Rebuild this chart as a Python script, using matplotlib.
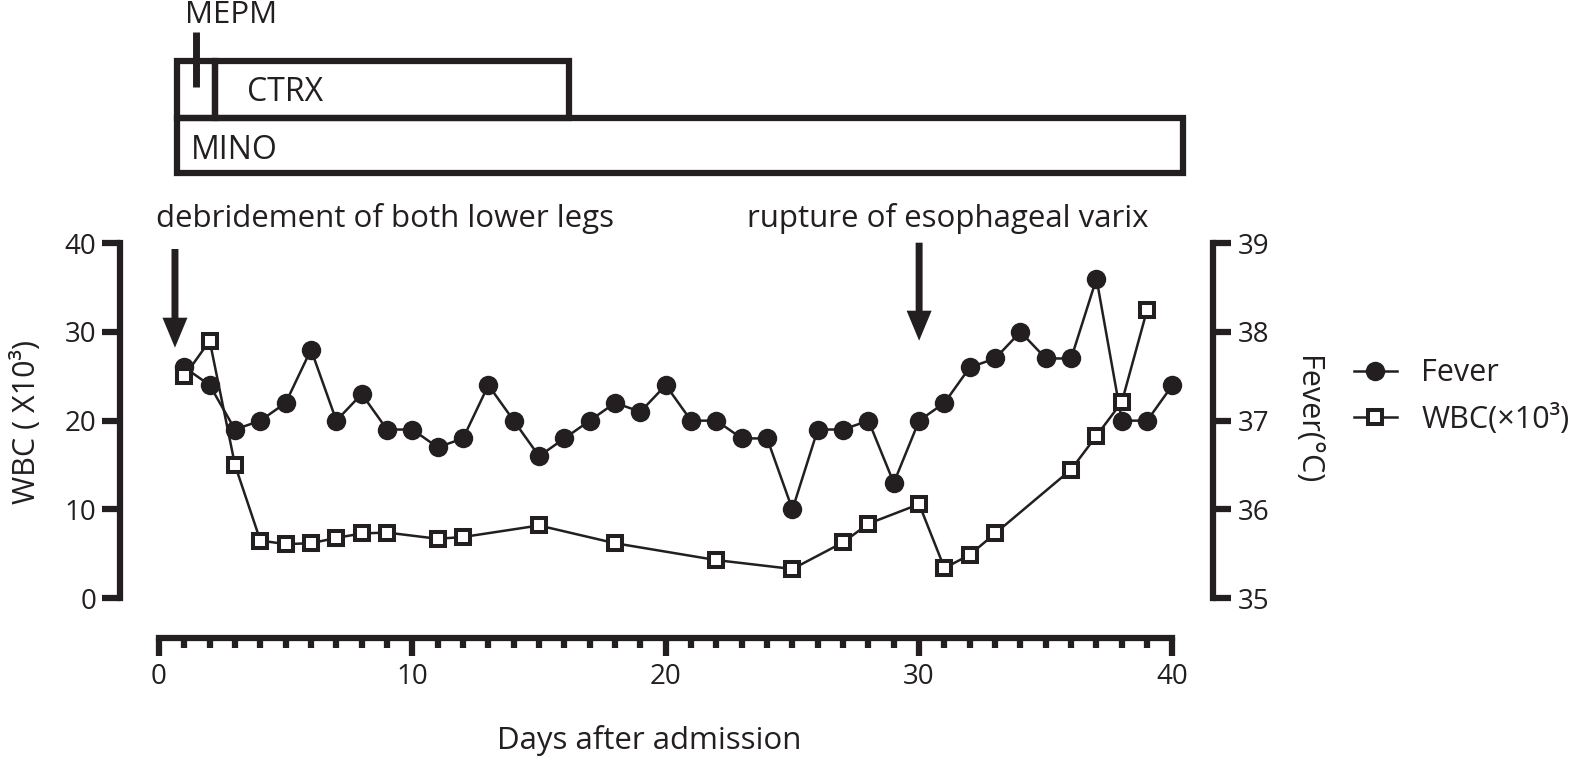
import matplotlib
matplotlib.use('Agg')
import matplotlib.pyplot as plt
from matplotlib.patches import Rectangle, ArrowStyle
from matplotlib.lines import Line2D
from matplotlib.transforms import blended_transform_factory
import numpy as np

plt.rcParams['font.family'] = ['Open Sans', 'DejaVu Sans']

# ---------------- data ----------------
fever_days = list(range(1, 41))
fever_vals = [37.6, 37.4, 36.9, 37.0, 37.2, 37.8, 37.0, 37.3, 36.9, 36.9,
              36.7, 36.8, 37.4, 37.0, 36.6, 36.8, 37.0, 37.2, 37.1, 37.4,
              37.0, 37.0, 36.8, 36.8, 36.0, 36.9, 36.9, 37.0, 36.3, 37.0,
              37.2, 37.6, 37.7, 38.0, 37.7, 37.7, 38.6, 37.0, 37.0, 37.4]

wbc_days = [1, 2, 3, 4, 5, 6, 7, 8, 9, 11, 12, 15, 18, 22, 25, 27, 28, 30,
            31, 32, 33, 36, 37, 38, 39]
wbc_vals = [25.0, 29.0, 15.0, 6.5, 6.1, 6.2, 6.8, 7.3, 7.4, 6.7, 6.9, 8.2,
            6.2, 4.3, 3.3, 6.3, 8.4, 10.6, 3.4, 4.9, 7.3, 14.5, 18.3, 22.1, 32.5]

treat_names = ['MEPM', 'CTRX', 'MINO']
treat_start = [0.7, 2.2, 0.7]
treat_end = [2.2, 16.2, 40.4]
treat_row = [0, 0, 1]

event_days = [0.63, 30.0]
event_labels = ['debridement of both lower legs', 'rupture of esophageal varix']

x_ticks = [0, 10, 20, 30, 40]
wbc_ticks = [0, 10, 20, 30, 40]
fever_ticks = [35, 36, 37, 38, 39]

# ---------------- layout helpers ----------------
W, H = 1594, 759
C = '#231f20'


def fx(px):
    return px / W


def fy(py):
    return 1 - py / H


fig = plt.figure(figsize=(W / 100, H / 100), dpi=100)

left_px, right_px, top_px, bot_px = 119.7, 1213.0, 243.0, 598.3
x0_px, x40_px = 159.0, 1172.5
s = (x40_px - x0_px) / 40.0
xmin = (left_px - x0_px) / s
xmax = 40 + (right_px - x40_px) / s
yscale = (bot_px - top_px) / 40.0

ax = fig.add_axes([fx(left_px), fy(bot_px), (right_px - left_px) / W,
                   (bot_px - top_px) / H])
ax2 = ax.twinx()
ax.set_zorder(ax2.get_zorder() + 1)
ax.patch.set_visible(False)

ax.set_xlim(xmin, xmax)
ax.set_ylim(0, 40)
ax2.set_ylim(35, 39)

SW = 4.5
# fever on right axis
ax2.plot(fever_days, fever_vals, color=C, lw=1.8, marker='o', ms=14,
         mfc=C, mec=C, mew=0, clip_on=False)
# WBC on left axis
ax.plot(wbc_days, wbc_vals, color=C, lw=1.8, marker='s', ms=10.5,
        mfc='white', mec=C, mew=2.9, clip_on=False)

for a in (ax, ax2):
    a.spines['top'].set_visible(False)
    for sp in a.spines.values():
        sp.set_linewidth(SW)
        sp.set_color(C)
        sp.set_capstyle('projecting')

ax.spines['right'].set_visible(False)
ax2.spines['left'].set_visible(False)
ax2.spines['bottom'].set_visible(False)
ax.spines['bottom'].set_position(('outward', (638 - bot_px) * 0.72))
ax.spines['bottom'].set_bounds(0, 40)

ax.set_xticks(x_ticks)
ax.set_xticks(np.arange(0, 41, 1), minor=True)
ax.set_yticks(wbc_ticks)
ax2.set_yticks(fever_ticks)

ax.tick_params(axis='x', which='major', length=13, width=SW, color=C,
               labelsize=20, labelcolor=C, pad=5)
ax.tick_params(axis='x', which='minor', length=7, width=SW, color=C)
ax.tick_params(axis='y', which='major', length=13, width=SW, color=C,
               labelsize=20, labelcolor=C, pad=4)
ax2.tick_params(axis='y', which='major', length=13, width=SW, color=C,
                labelsize=20, labelcolor=C, pad=5)

# axis labels
fig.text(fx(27), fy(422), 'WBC ( X10³)', rotation=90, ha='center',
         va='center', fontsize=22, color=C)
fig.text(fx(1307), fy(420), 'Fever(°C)', rotation=270, ha='center',
         va='center', fontsize=22, color=C)
fig.text(fx(649), fy(741), 'Days after admission', ha='center', va='center',
         fontsize=22.5, color=C)

# event arrows
arrow_style = ArrowStyle.Simple(head_length=21.6, head_width=18, tail_width=5)
arrow_tops = [(bot_px - 249) / yscale, (bot_px - 242.7) / yscale]
arrow_tips = [(bot_px - 347.7) / yscale, (bot_px - 340.7) / yscale]
text_cx = [385, 947.5]
for d, lab, yt, yb, tx in zip(event_days, event_labels, arrow_tops,
                              arrow_tips, text_cx):
    ax.annotate('', xy=(d, yb), xytext=(d, yt), xycoords='data',
                arrowprops=dict(arrowstyle=arrow_style, mutation_scale=1,
                                shrinkA=0, shrinkB=0, fc=C, ec='none', lw=0),
                annotation_clip=False)
    fig.text(fx(tx), fy(227), lab, ha='center', va='baseline', fontsize=22.5,
             color=C)

# treatment boxes
trans = blended_transform_factory(ax.transData, fig.transFigure)
row_top = [61, 118]
row_bot = [118, 173]
for name, st, en, r in zip(treat_names, treat_start, treat_end, treat_row):
    rect = Rectangle((st, fy(row_bot[r])), en - st,
                     (row_bot[r] - row_top[r]) / H, transform=trans,
                     fill=False, ec=C, lw=SW, clip_on=False,
                     joinstyle='miter')
    fig.add_artist(rect)

# MEPM marker line and labels
mepm_mid = (treat_start[0] + treat_end[0]) / 2
fig.add_artist(Line2D([mepm_mid, mepm_mid], [fy(32), fy(87)],
                      transform=trans, color=C, lw=5, solid_capstyle='butt'))
fig.text(fx(231), fy(23), treat_names[0], ha='center', va='baseline',
         fontsize=22.5, color=C)
fig.text(fx(247), fy(101), treat_names[1], ha='left', va='baseline',
         fontsize=23, color=C)
fig.text(fx(191), fy(159), treat_names[2], ha='left', va='baseline',
         fontsize=23, color=C)

# legend
h_f = Line2D([], [], color=C, lw=1.8, marker='o', ms=14, mfc=C, mec=C, mew=0)
h_w = Line2D([], [], color=C, lw=1.8, marker='s', ms=10.5, mfc='white',
             mec=C, mew=2.9)
fig.legend([h_f, h_w], ['Fever', 'WBC(×10³)'], loc='center left',
           bbox_to_anchor=(fx(1354), fy(396.5)), frameon=False, borderpad=0,
           borderaxespad=0, handlelength=1.4, handletextpad=0.8,
           labelspacing=0.5, fontsize=22, labelcolor=C)

fig.savefig('out.png', dpi=100, facecolor='white')
